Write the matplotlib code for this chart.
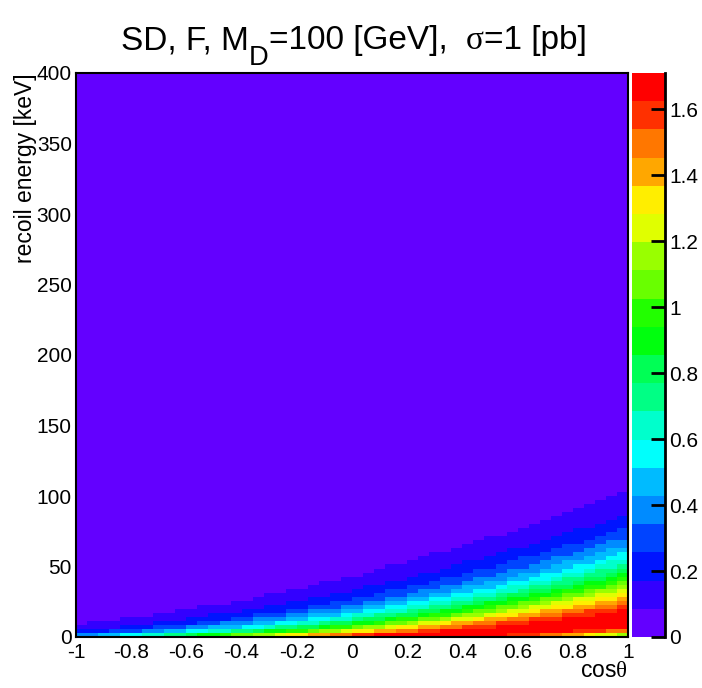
import numpy as np
import matplotlib
matplotlib.use("Agg")
import matplotlib.pyplot as plt
from matplotlib.colors import ListedColormap, BoundaryNorm
import colorsys

plt.rcParams['font.family'] = ['Liberation Sans', 'DejaVu Sans']
plt.rcParams['mathtext.fontset'] = 'custom'
plt.rcParams['mathtext.rm'] = 'Liberation Serif'
plt.rcParams['mathtext.sf'] = 'Liberation Sans'

# ---- data ----
cos_edges = np.linspace(-1.0, 1.0, 51)        # 50 bins in cos(theta)
energy_edges = np.linspace(0.0, 400.0, 141)   # 140 bins in recoil energy [keV]
peak_value = [1.71]          # maximum cell content
ridge_slope = [3.6]          # sqrt(keV) per unit cos where the ridge lies
ridge_width = [3.8]          # sqrt(keV) gaussian width of the band
z_ticks = [0, 0.2, 0.4, 0.6, 0.8, 1.0, 1.2, 1.4, 1.6]
z_tick_labels = ["0", "0.2", "0.4", "0.6", "0.8", "1", "1.2", "1.4", "1.6"]
x_ticks = [-1, -0.8, -0.6, -0.4, -0.2, 0, 0.2, 0.4, 0.6, 0.8, 1]
x_tick_labels = ["-1", "-0.8", "-0.6", "-0.4", "-0.2", "0", "0.2", "0.4", "0.6", "0.8", "1"]
y_ticks = [0, 50, 100, 150, 200, 250, 300, 350, 400]
n_levels = 20

cc = 0.5 * (cos_edges[:-1] + cos_edges[1:])
ec = 0.5 * (energy_edges[:-1] + energy_edges[1:])
C, E = np.meshgrid(cc, ec)
values = peak_value[0] * np.exp(-((np.sqrt(E) - ridge_slope[0] * C) / ridge_width[0]) ** 2)

# ---- ROOT "pretty" palette, 20 contour levels ----
pal = []
for i in range(50):
    if i == 49:
        pal.append((1.0, 0.0, 0.0))
    else:
        hue = 280.0 - (i + 1) * 5.6
        pal.append(colorsys.hls_to_rgb(hue / 360.0, 0.5, 1.0))
level_colors = [pal[int((k + 0.99) * 50 / n_levels)] for k in range(n_levels)]
cmap = ListedColormap(level_colors)
zmax = values.max()
bounds = np.linspace(0, zmax, n_levels + 1)
norm = BoundaryNorm(bounds, n_levels)

W, H = 702, 688
L, R, T, B = 76, 628, 73, 637
fig = plt.figure(figsize=(W / 100, H / 100), dpi=100)
ax = fig.add_axes([L / W, 1 - B / H, (R - L) / W, (B - T) / H])
ax.pcolormesh(cos_edges, energy_edges, values, cmap=cmap, norm=norm, shading='flat')
ax.set_xlim(-1, 1)
ax.set_ylim(0, 400)
ax.set_xticks(x_ticks)
ax.set_xticklabels(x_tick_labels)
ax.set_yticks(y_ticks)
ax.tick_params(length=0, labelsize=15)
ax.tick_params(axis='x', pad=4)
ax.tick_params(axis='y', pad=3)
for s in ax.spines.values():
    s.set_linewidth(1.5)

ax.set_xlabel(r"cos$\mathrm{\theta}$", fontsize=16.5)
ax.xaxis.set_label_coords(1.0, -(659 - B) / (B - T))
ax.xaxis.label.set_horizontalalignment('right')
ax.xaxis.label.set_verticalalignment('top')
ax.set_ylabel("recoil energy [keV]", fontsize=16.5)
ax.yaxis.set_label_coords((26 - L) / (R - L), 1.0)
ax.yaxis.label.set_horizontalalignment('right')
ax.yaxis.label.set_verticalalignment('center')

# ---- title built from pieces (ROOT-like lowered subscript) ----
renderer = fig.canvas.get_renderer()
base_size = 24
pieces = [("SD, F, M", 1.0, 0, None),
          ("D", 0.82, -16, None),
          ("=100 [GeV],  ", 1.0, 0, None),
          ("\u03c3", 1.0, 0, 'Liberation Serif'),
          ("=1 [pb]", 1.0, 0, None)]
texts = []
widths = []
for s, scale, dy, fam in pieces:
    kw = {}
    if fam:
        kw['family'] = [fam, 'DejaVu Serif']
    t = fig.text(0, 0, s, fontsize=base_size * scale, ha='left', va='baseline', **kw)
    widths.append(t.get_window_extent(renderer).width)
    texts.append((t, dy))
total = sum(widths)
x = 354 - total / 2
baseline = 49
for (t, dy), w in zip(texts, widths):
    t.set_position((x / W, 1 - (baseline - dy) / H))
    x += w

# ---- colour palette axis ----
cax = fig.add_axes([632 / W, 1 - B / H, 33 / W, (B - T) / H])
cax.pcolormesh([0, 1], bounds, np.array(bounds[:-1] + 1e-9).reshape(-1, 1), cmap=cmap, norm=norm)
cax.set_xlim(0, 1)
cax.set_ylim(0, zmax)
cax.set_xticks([])
cax.yaxis.tick_right()
cax.set_yticks(z_ticks)
cax.set_yticklabels(z_tick_labels)
cax.tick_params(axis='y', direction='in', length=10, width=2, labelsize=15, pad=3)
for k in ['left', 'top', 'bottom']:
    cax.spines[k].set_visible(False)
cax.spines['right'].set_linewidth(2)

fig.savefig("out.png", dpi=100)
